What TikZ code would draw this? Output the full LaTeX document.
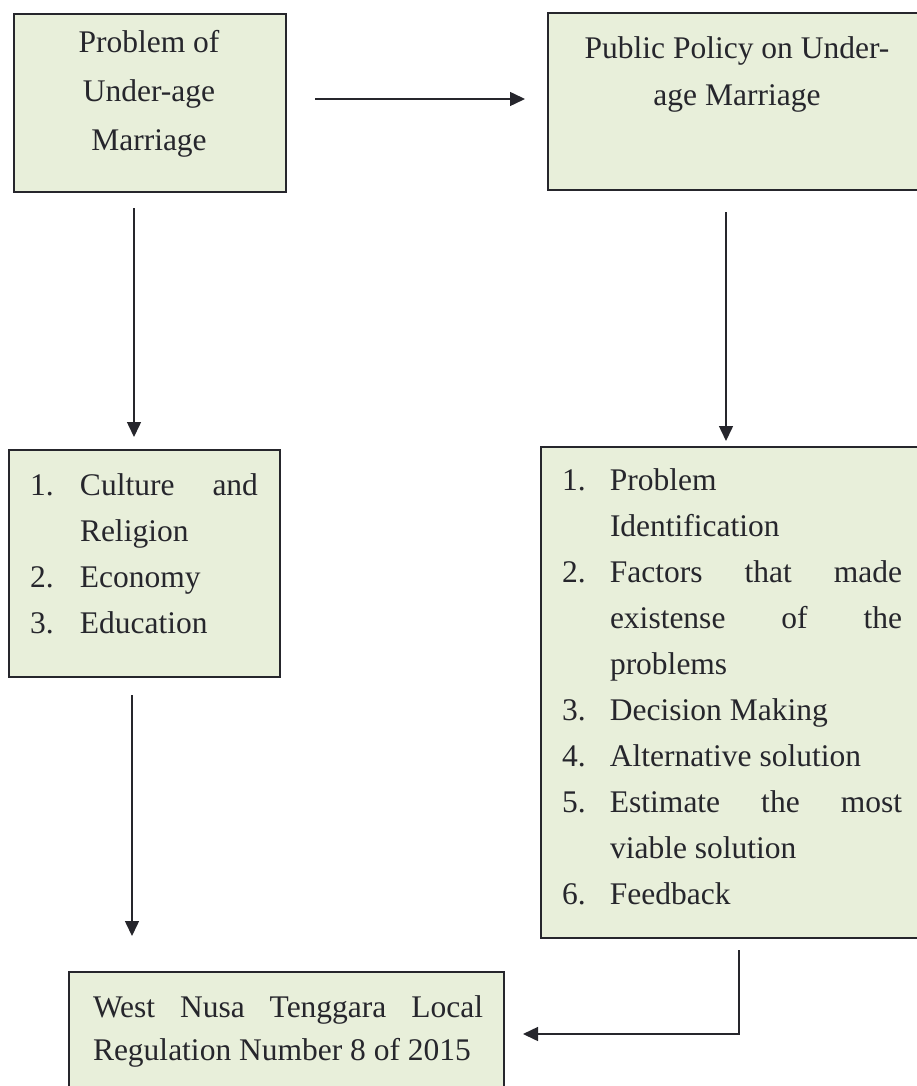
\documentclass[tikz,border=0pt]{standalone}
\usepackage{fontspec}
\setmainfont{Liberation Serif}
\usetikzlibrary{arrows.meta}
\definecolor{boxfill}{RGB}{232,239,218}
\definecolor{ink}{RGB}{38,38,44}
\begin{document}
\begin{tikzpicture}[x=1pt,y=-1pt,
  box/.style={draw=ink, line width=1.8pt, fill=boxfill, rectangle, inner sep=0pt, anchor=north west},
  txt/.style={text=ink, inner sep=0pt, font=\fontsize{31.5}{46}\selectfont},
  arr/.style={draw=ink, line width=1.5pt, -{Triangle[length=15pt,width=14pt]}},
  conn/.style={draw=ink, line width=1.5pt}]
\useasboundingbox (0,0) rectangle (917,1086);
% boxes
\node[box, minimum width=272pt, minimum height=178pt] (b1) at (13,13) {};
\node[box, minimum width=380pt, minimum height=177pt] (b2) at (547,12) {};
\node[box, minimum width=271pt, minimum height=227pt] (b3) at (8,449) {};
\node[box, minimum width=385pt, minimum height=491pt] (b4) at (540,446) {};
\node[box, minimum width=435pt, minimum height=140pt] (b5) at (68,971) {};
% texts
\node[txt, align=center, font=\fontsize{31.5}{49}\selectfont] (t1) at (149,94) {Problem of\\Under-age\\Marriage};
\node[txt, align=center, font=\fontsize{31.5}{47}\selectfont] (t2) at (737,74) {Public Policy on Under-\\age Marriage};
\node[txt] (t3) at (144,554) {\parbox{228pt}{%
\makebox[50pt][l]{1.}\makebox[178pt][s]{Culture and}\\
\hspace*{50pt}Religion\\
\makebox[50pt][l]{2.}Economy\\
\makebox[50pt][l]{3.}Education}};
\node[txt] (t4) at (732,687) {\parbox{340pt}{%
\makebox[48pt][l]{1.}Problem\\
\hspace*{48pt}Identification\\
\makebox[48pt][l]{2.}\makebox[292pt][s]{Factors that made}\\
\hspace*{48pt}\makebox[292pt][s]{existense of the}\\
\hspace*{48pt}problems\\
\makebox[48pt][l]{3.}Decision Making\\
\makebox[48pt][l]{4.}Alternative solution\\
\makebox[48pt][l]{5.}\makebox[292pt][s]{Estimate the most}\\
\hspace*{48pt}viable solution\\
\makebox[48pt][l]{6.}Feedback}};
\node[txt, font=\fontsize{31.5}{43}\selectfont] (t5) at (288,1031) {\parbox{390pt}{%
\makebox[390pt][s]{West Nusa Tenggara Local}\\
Regulation Number 8 of 2015}};
% connectors
\coordinate (c1) at (315,99);
\coordinate (c2) at (525,99);
\draw[arr] (c1) -- (c2);
\coordinate (c3) at (134,208);
\coordinate (c4) at (134,437);
\draw[arr] (c3) -- (c4);
\coordinate (c5) at (726,212);
\coordinate (c6) at (726,441);
\draw[arr] (c5) -- (c6);
\coordinate (c7) at (132,695);
\coordinate (c8) at (132,936);
\draw[arr] (c7) -- (c8);
\coordinate (c9) at (739,950);
\coordinate (c10) at (739,1034);
\coordinate (c11) at (523,1034);
\draw[arr] (c9) -- (c10) -- (c11);
\end{tikzpicture}
\end{document}
